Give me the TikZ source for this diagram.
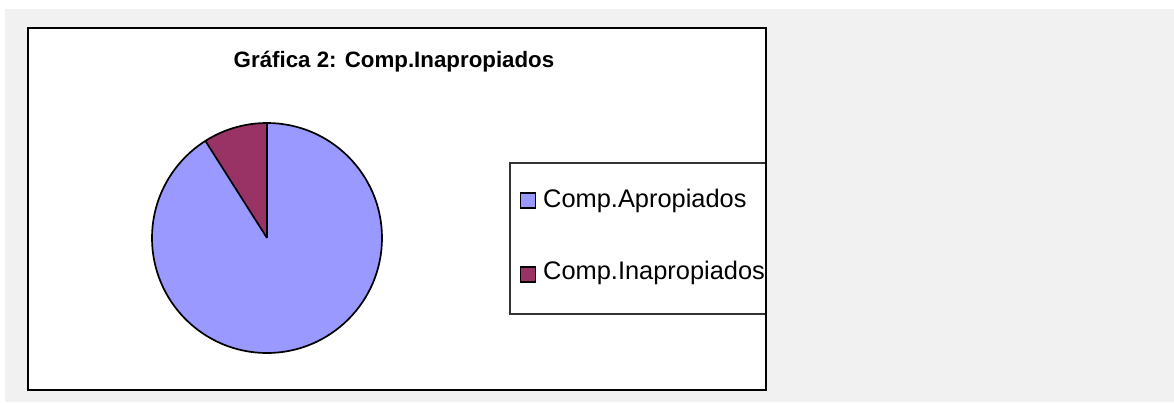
\documentclass[tikz,border=0pt]{standalone}
\usepackage{fontspec}
\setmainfont{Liberation Sans}
\definecolor{bgray}{HTML}{F1F1F1}
\definecolor{pieblue}{HTML}{9999FF}
\definecolor{piered}{HTML}{993366}
\tikzset{
  slice/.style={draw=black, line width=1.7pt, line join=round},
  frame/.style={draw=black, line width=1.6pt, fill=white},
  legframe/.style={draw=black!80, line width=1.1pt, fill=white},
  legsq/.style={draw=black, line width=1.4pt, minimum size=15pt, inner sep=0pt},
  legtext/.style={anchor=base west, inner sep=0pt, font=\fontsize{25.4}{30}\selectfont},
}
\begin{document}
\begin{tikzpicture}[x=1pt,y=-1pt]
\useasboundingbox (0,0) rectangle (1174,402);
\fill[bgray] (5,9) rectangle (1174,402);
\draw[frame] (28,28) rectangle (766,390);
\node[anchor=base, inner sep=0pt, font=\fontsize{22.3}{26}\selectfont\bfseries] (title) at (394,67) {Gráfica 2: Comp.Inapropiados};
% pie
\coordinate (c) at (267,238);
\fill[pieblue] (c) circle[radius=115];
\fill[piered] (c) -- ++(0,-115) arc[start angle=-90, end angle=-122.4, radius=115] -- cycle;
\draw[slice] (c) circle[radius=115];
\draw[slice] (c) -- ++(0,-115);
\draw[slice] (c) -- ++({115*cos(-122.4)},{115*sin(-122.4)});
% legend
\draw[legframe] (510,163) rectangle (766,314);
\draw[black, line width=1.6pt] (766,160) -- (766,318);
\node[legsq, fill=pieblue] (sq1) at (528,200.5) {};
\node[legtext] (t1) at (543,207) {Comp.Apropiados};
\node[legsq, fill=piered] (sq2) at (528,274.5) {};
\node[legtext] (t2) at (543,279) {Comp.Inapropiados};
\end{tikzpicture}
\end{document}
